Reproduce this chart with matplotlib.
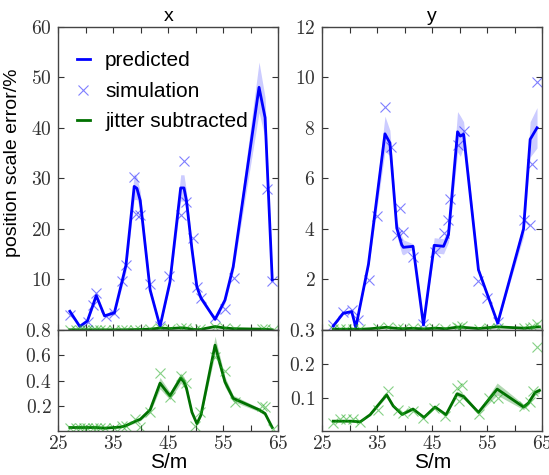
import numpy as np
import matplotlib
matplotlib.use('Agg')
import matplotlib.pyplot as plt
from matplotlib.ticker import FuncFormatter, MultipleLocator

# ---- x plane: predicted error, simulation, jitter subtracted ----
s_pred_x = [27.1, 28.9, 30.3, 31.9, 33.4, 35.2, 36.5, 37.3, 38.8, 39.3, 39.9, 41.7, 43.5,
            45.3, 47.25, 47.85, 48.3, 49.3, 50.2, 50.95, 53.5, 55.3, 56.8, 61.5, 62.6, 63.9]
pred_x = [3.7, 0.7, 1.8, 6.8, 2.8, 3.4, 9.2, 12.8, 28.4, 28.0, 25.6, 7.9, 0.7,
          9.5, 28.1, 28.1, 25.6, 16.0, 8.5, 6.3, 2.1, 5.9, 12.5, 48.0, 42.0, 9.9]
pred_err_x = [0.4, 0.2, 0.3, 0.7, 0.3, 0.4, 1.0, 1.3, 2.6, 2.2, 1.8, 0.8, 0.1,
              0.9, 2.6, 2.6, 1.8, 1.2, 0.8, 0.6, 0.3, 0.6, 1.1, 5.0, 4.0, 0.9]
s_sim_x = [27.1, 30.4, 31.25, 31.9, 33.6, 35.1, 36.5, 37.3, 38.8, 39.2, 39.9, 41.7, 43.5,
           45.2, 47.25, 47.85, 48.3, 49.5, 50.2, 50.9, 53.5, 55.3, 56.9, 63.0, 63.9]
sim_x = [3.0, 1.5, 5.0, 7.3, 2.8, 3.4, 9.7, 12.9, 30.2, 22.9, 22.7, 9.1, 0.7,
         10.7, 22.7, 33.5, 25.4, 18.1, 8.5, 6.3, 2.6, 4.1, 10.2, 27.8, 9.6]
jit_x = [0.03, 0.03, 0.03, 0.03, 0.025, 0.03, 0.035, 0.045, 0.075, 0.085, 0.095, 0.17, 0.38,
         0.28, 0.42, 0.39, 0.34, 0.15, 0.06, 0.13, 0.68, 0.39, 0.26, 0.17, 0.14, 0.03]
jit_err_x = [0.005, 0.005, 0.005, 0.005, 0.005, 0.005, 0.005, 0.008, 0.012, 0.012, 0.012, 0.02, 0.045,
             0.03, 0.04, 0.04, 0.03, 0.015, 0.01, 0.015, 0.07, 0.04, 0.025, 0.015, 0.015, 0.005]
s_jsim_x = [27.1, 28.2, 28.9, 29.6, 30.3, 31.25, 31.9, 32.6, 33.4, 35.2, 36.5, 37.3, 38.95, 39.85,
            41.7, 43.5, 45.3, 47.4, 48.3, 49.85, 50.8, 53.5, 55.3, 57.1, 62.0, 62.6, 64.1]
jsim_x = [0.03, 0.03, 0.03, 0.03, 0.03, 0.03, 0.03, 0.03, 0.03, 0.03, 0.04, 0.04, 0.095, 0.036,
          0.155, 0.46, 0.27, 0.44, 0.38, 0.04, 0.15, 0.59, 0.48, 0.23, 0.2, 0.19, 0.02]

# ---- y plane ----
s_pred_y = [27.0, 28.8, 30.35, 31.1, 33.4, 36.4, 37.3, 38.55, 39.45, 39.75, 41.5, 43.4,
            45.35, 47.05, 47.95, 49.6, 50.1, 50.7, 53.4, 56.9, 61.6, 62.8, 64.05]
pred_y = [0.16, 0.66, 0.73, 0.1, 2.6, 7.76, 7.4, 4.03, 3.37, 3.27, 3.31, 0.2,
          3.35, 3.31, 3.77, 7.84, 7.67, 7.74, 2.38, 0.27, 4.0, 7.54, 8.0]
pred_err_y = [0.03, 0.05, 0.05, 0.02, 0.15, 0.7, 0.5, 0.3, 0.35, 0.3, 0.1, 0.03,
              0.3, 0.3, 0.3, 0.8, 0.8, 0.5, 0.1, 0.03, 0.3, 0.7, 0.8]
s_sim_y = [27.0, 28.8, 30.35, 31.45, 33.5, 35.0, 36.4, 37.45, 38.55, 39.15, 39.76, 41.5, 43.4,
           45.5, 47.2, 47.8, 48.3, 49.6, 50.7, 53.4, 55.0, 56.9, 61.6, 62.7, 63.1, 64.05]
sim_y = [0.2, 0.73, 0.8, 0.4, 1.98, 4.5, 8.82, 7.25, 3.75, 4.83, 3.88, 2.87, 0.22,
         3.1, 3.84, 4.37, 5.2, 7.3, 7.86, 1.92, 1.26, 0.33, 4.37, 4.17, 6.57, 9.81]
s_jit_y = [27.0, 28.8, 30.35, 31.9, 33.7, 36.7, 37.9, 39.5, 41.5, 43.5, 45.5, 47.5,
           49.5, 50.7, 53.4, 56.8, 61.6, 62.5, 63.7, 64.5]
jit_y = [0.03, 0.03, 0.03, 0.028, 0.049, 0.108, 0.075, 0.05, 0.066, 0.041, 0.072, 0.049,
         0.111, 0.103, 0.056, 0.125, 0.072, 0.084, 0.115, 0.121]
jit_err_y = [0.002, 0.002, 0.002, 0.002, 0.003, 0.006, 0.004, 0.003, 0.004, 0.003, 0.004, 0.003,
             0.008, 0.008, 0.004, 0.018, 0.008, 0.006, 0.008, 0.008]
s_jsim_y = [27.0, 28.2, 29.4, 30.5, 31.9, 35.2, 37.0, 38.8, 39.6, 41.5, 43.4, 45.3, 47.35,
            49.5, 49.8, 50.4, 53.5, 55.3, 56.9, 61.7, 62.7, 63.4, 64.05]
jsim_y = [0.026, 0.035, 0.035, 0.035, 0.027, 0.064, 0.118, 0.064, 0.055, 0.06, 0.04, 0.07, 0.044,
          0.128, 0.09, 0.138, 0.05, 0.098, 0.098, 0.075, 0.088, 0.118, 0.25]

titles = ['x', 'y']
top_ylims = [(0, 60), (0, 12)]
top_yticks = [[10, 20, 30, 40, 50, 60], [2, 4, 6, 8, 10, 12]]
bot_ylims = [(0, 0.8), (0, 0.3)]
bot_yticks = [[0.2, 0.4, 0.6, 0.8], [0.1, 0.2, 0.3]]

plt.rcParams['font.family'] = ['Liberation Sans', 'DejaVu Sans']
plt.rcParams['mathtext.fontset'] = 'cm'

fig = plt.figure(figsize=(5.49, 4.75), dpi=100)
lefts = [0.1062, 0.587]
W = 0.4007
axes_top, axes_bot = [], []
for l in lefts:
    axes_top.append(fig.add_axes([l, 0.3053, W, 0.6386]))
    axes_bot.append(fig.add_axes([l, 0.092, W, 0.2133]))

num_fmt = FuncFormatter(lambda v, p: r'$%g$' % round(v, 3))
x_fmt = FuncFormatter(lambda v, p: r'$%g$' % v if int(round(v - 25)) % 10 == 0 else '')

data = [
    (s_pred_x, pred_x, pred_err_x, s_sim_x, sim_x, s_pred_x, jit_x, jit_err_x, s_jsim_x, jsim_x),
    (s_pred_y, pred_y, pred_err_y, s_sim_y, sim_y, s_jit_y, jit_y, jit_err_y, s_jsim_y, jsim_y),
]

for i in range(2):
    sp, pr, pe, ss, sm, sj, jt, je, sjs, js = data[i]
    pr, pe, jt, je = map(np.array, (pr, pe, jt, je))
    at, ab = axes_top[i], axes_bot[i]

    at.fill_between(sp, pr - pe, pr + pe, color='#0000ff', alpha=0.2, lw=0)
    at.plot(sp, pr, '-', color='#0000ff', lw=2, label='predicted')
    at.plot(ss, sm, 'x', color='#0000ff', ms=7, mew=0.8, alpha=0.5, label='simulation')
    for ax in (at, ab):
        ax.fill_between(sj, jt - je, jt + je, color='#008000', alpha=0.3, lw=0)
        ax.plot(sj, jt, '-', color='#007000', lw=2, label='jitter subtracted')
        ax.plot(sjs, js, 'x', color='#22aa22', ms=7, mew=0.8, alpha=0.55)

    at.set_ylim(*top_ylims[i])
    at.set_yticks(top_yticks[i])
    ab.set_ylim(*bot_ylims[i])
    ab.set_yticks(bot_yticks[i])
    for ax in (at, ab):
        ax.set_xlim(25, 65)
        ax.xaxis.set_major_locator(MultipleLocator(5))
        ax.yaxis.set_major_formatter(num_fmt)
        ax.tick_params(direction='in', top=True, right=True, length=4, width=0.8,
                       labelsize=14, pad=5, colors='#333333')
        ax.tick_params(axis='x', pad=3)
        for sp_ in ax.spines.values():
            sp_.set_color('#444444')
            sp_.set_linewidth(1.0)
    at.xaxis.set_major_formatter(FuncFormatter(lambda v, p: ''))
    ab.xaxis.set_major_formatter(x_fmt)
    at.set_title(titles[i], fontsize=14, pad=4)
    ab.set_xlabel('S/m', fontsize=15, labelpad=0)

axes_top[0].set_ylabel('position scale error/%', fontsize=14)
axes_top[0].yaxis.set_label_coords(-0.17, 0.55)
axes_top[0].legend(loc='upper left', bbox_to_anchor=(0.0, 0.98), frameon=False, fontsize=15,
                   handlelength=0.6, handletextpad=0.75, labelspacing=0.55, numpoints=1,
                   borderaxespad=0.5)

fig.savefig('out.png', dpi=100)
